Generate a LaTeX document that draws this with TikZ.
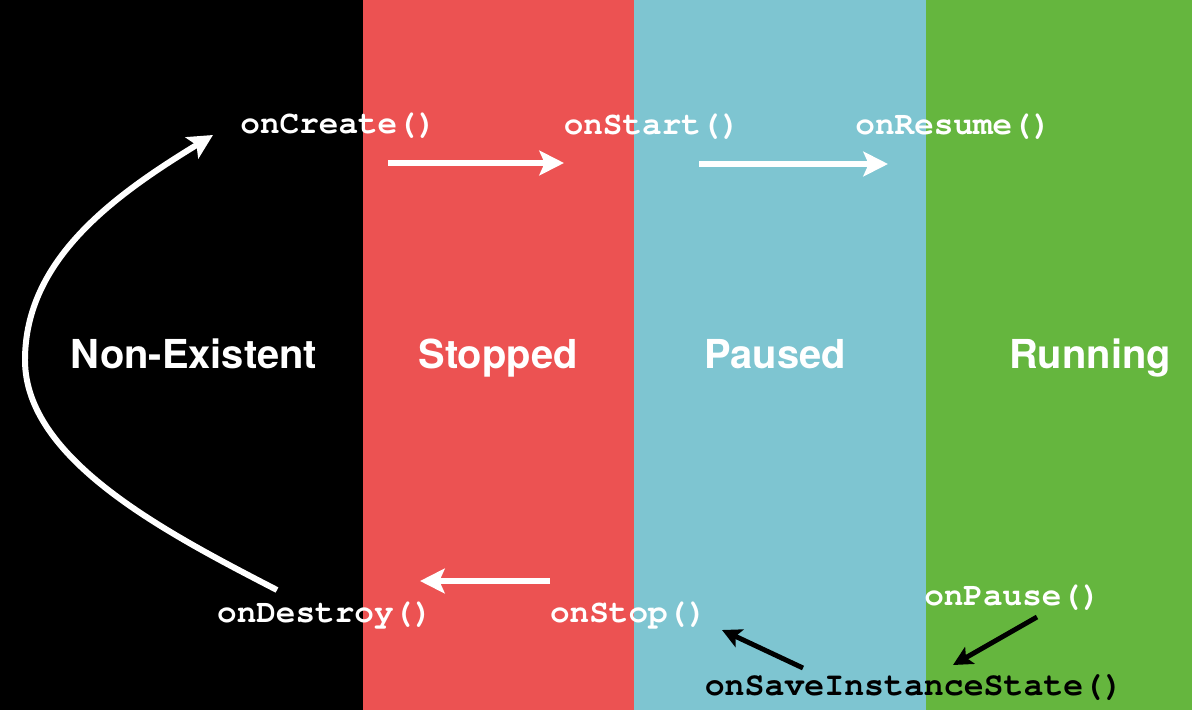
\documentclass[tikz,border=0pt]{standalone}
\usepackage{fontspec}
\setsansfont{TeX Gyre Heros}
\setmonofont{texgyrecursor}[Extension=.otf, UprightFont=*-regular, BoldFont=*-bold]
\usetikzlibrary{arrows.meta}

\definecolor{stopred}{RGB}{236,82,82}
\definecolor{pauseblue}{RGB}{126,197,209}
\definecolor{rungreen}{RGB}{101,182,62}

\begin{document}
\begin{tikzpicture}[x=0.02cm, y=-0.02cm,
  statelabel/.style={anchor=base, inner sep=0pt, text=white, font=\fontsize{22.7}{26}\sffamily\bfseries},
  method/.style={anchor=base, inner sep=0pt, text=white, font=\fontsize{18.6}{22}\ttfamily\bfseries},
  whitearrow/.style={white, line width=3.4pt, -{Stealth[length=14pt, width=14pt, inset=3pt]}},
  blackarrow/.style={black, line width=2.8pt, -{Stealth[length=11pt, width=11pt, inset=2.5pt]}}]

\useasboundingbox (0,0) rectangle (1192,710);

% Four state columns
\fill[black] (0,0) rectangle (363,710);
\fill[stopred] (363,0) rectangle (634,710);
\fill[pauseblue] (634,0) rectangle (926,710);
\fill[rungreen] (926,0) rectangle (1192,710);

% State names
\node[statelabel] (nonexistent) at (194,368) {Non-Existent};
\node[statelabel] (stopped) at (498,368) {Stopped};
\node[statelabel] (paused) at (775,368) {Paused};
\node[statelabel] (running) at (1090,368) {Running};

% Callback methods
\node[method] (oncreate) at (338.5,133) {onCreate()};
\node[method] (onstart) at (652,134) {onStart()};
\node[method] (onresume) at (953.5,134) {onResume()};
\node[method] (ondestroy) at (325,622) {onDestroy()};
\node[method] (onstop) at (628.5,622) {onStop()};
\node[method] (onpause) at (1012.5,605) {onPause()};
\node[method, text=black, font=\fontsize{18.9}{22}\ttfamily\bfseries] (onsave) at (914,695) {onSaveInstanceState()};

% Arrow end points
\coordinate (createout) at (388,163);
\coordinate (startin) at (564,163);
\coordinate (startout) at (699,164);
\coordinate (resumein) at (888,164);
\coordinate (stopout) at (550,581);
\coordinate (destroyin) at (420,581);
\coordinate (destroyout) at (277,590);
\coordinate (leftmost) at (25,360);
\coordinate (createin) at (213,135);
\coordinate (pauseout) at (1037,617);
\coordinate (savein) at (953,665);
\coordinate (saveout) at (803,668);
\coordinate (stopin) at (722,630);

% Forward transitions
\draw[whitearrow] (createout) -- (startin);
\draw[whitearrow] (startout) -- (resumein);

% Backward transitions
\draw[whitearrow] (stopout) -- (destroyin);
\draw[whitearrow] (destroyout) .. controls (167,533) and (25,460) .. (leftmost)
  .. controls (25,260) and (113,196) .. (createin);
\draw[blackarrow] (pauseout) -- (savein);
\draw[blackarrow] (saveout) -- (stopin);
\end{tikzpicture}
\end{document}
